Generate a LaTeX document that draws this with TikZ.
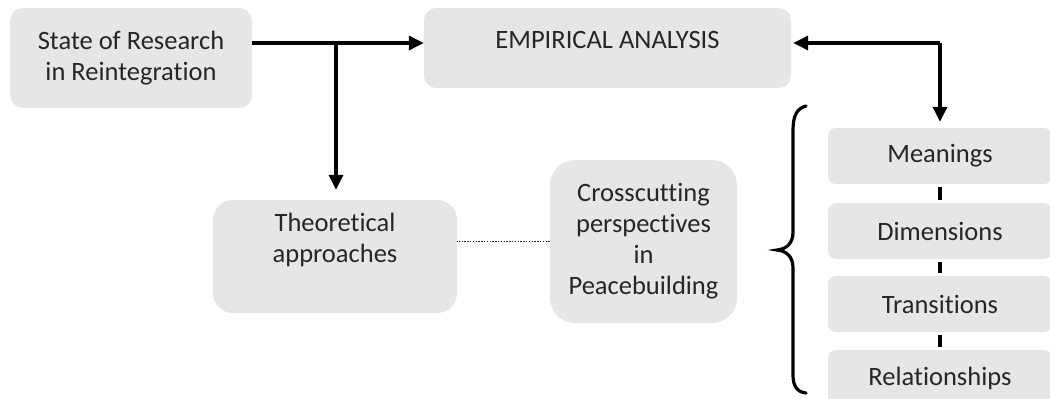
\documentclass[tikz,border=0pt]{standalone}
\usepackage{fontspec}
\setmainfont{Carlito}[Ligatures={NoCommon}]
\usetikzlibrary{arrows.meta}
\definecolor{boxfill}{HTML}{E6E6E6}
\definecolor{txt}{HTML}{262626}
\tikzset{
  box/.style={fill=boxfill, draw=none, text=txt, align=center, inner sep=0pt,
    font=\fontsize{26.5}{31}\selectfont},
  conn/.style={line width=3.4pt, draw=black},
  tip/.style={-{Triangle[length=15pt,width=14pt]}},
  tick/.style={line width=3.4pt, draw=black, shorten <=3pt, shorten >=3pt},
}
\begin{document}
\begin{tikzpicture}[x=1pt,y=-1pt]
\useasboundingbox (0,0) rectangle (1050,399);
% nodes
\node[box, rounded corners=13pt, minimum width=242pt, minimum height=100pt] (state) at (131,58) {State of Research\\in Reintegration};
\node[box, rounded corners=12pt, minimum width=367pt, minimum height=80pt, text height=10pt, text depth=10pt] (emp) at (607.5,48) {EMPIRICAL ANALYSIS};
\node[box, rounded corners=20pt, minimum width=244pt, minimum height=113pt] (theo) at (335,256.5) {Theoretical\\approaches\\[6pt]};
\node[box, rounded corners=25pt, minimum width=187pt, minimum height=163pt] (cross) at (643.5,241.5) {Crosscutting\\perspectives\\in\\Peacebuilding};
\node[box, rounded corners=8pt, minimum width=224pt, minimum height=56pt] (mean) at (940,156) {Meanings};
\node[box, rounded corners=8pt, minimum width=224pt, minimum height=56pt] (dim) at (940,231) {Dimensions};
\node[box, rounded corners=8pt, minimum width=224pt, minimum height=56pt] (trans) at (940,304) {Transitions};
\node[box, rounded corners=8pt, minimum width=224pt, minimum height=56pt] (rel) at (940,378) {Relationships};
\coordinate (split) at (336,43);
\coordinate (corner) at (940,43);
% connectors
\draw[conn, tip] (state.east |- split) -- (emp.west |- split);
\draw[conn, tip, shorten >=10pt] (split) -- (split |- theo.north);
\draw[conn, tip, shorten >=2pt] (corner) -- (emp.east |- corner);
\draw[conn, tip, shorten >=6pt] (corner) -- (mean.north);
\draw[line width=1.6pt, dash pattern=on 1.4pt off 1.4pt, draw=black!85] (cross.west) -- (cross.west -| theo.east);
\draw[tick] (mean.south) -- (dim.north);
\draw[tick] (dim.south) -- (trans.north);
\draw[tick] (trans.south) -- (rel.north);
% brace
\draw[line width=3.2pt, line cap=round] (806,106) .. controls (797,108) and (793,116) .. (793,130) -- (793,232)
  .. controls (793,244) and (786,249) .. (777,250)
  .. controls (786,251) and (793,256) .. (793,268) -- (793,375)
  .. controls (793,386) and (797,392) .. (806,393);
\end{tikzpicture}
\end{document}
